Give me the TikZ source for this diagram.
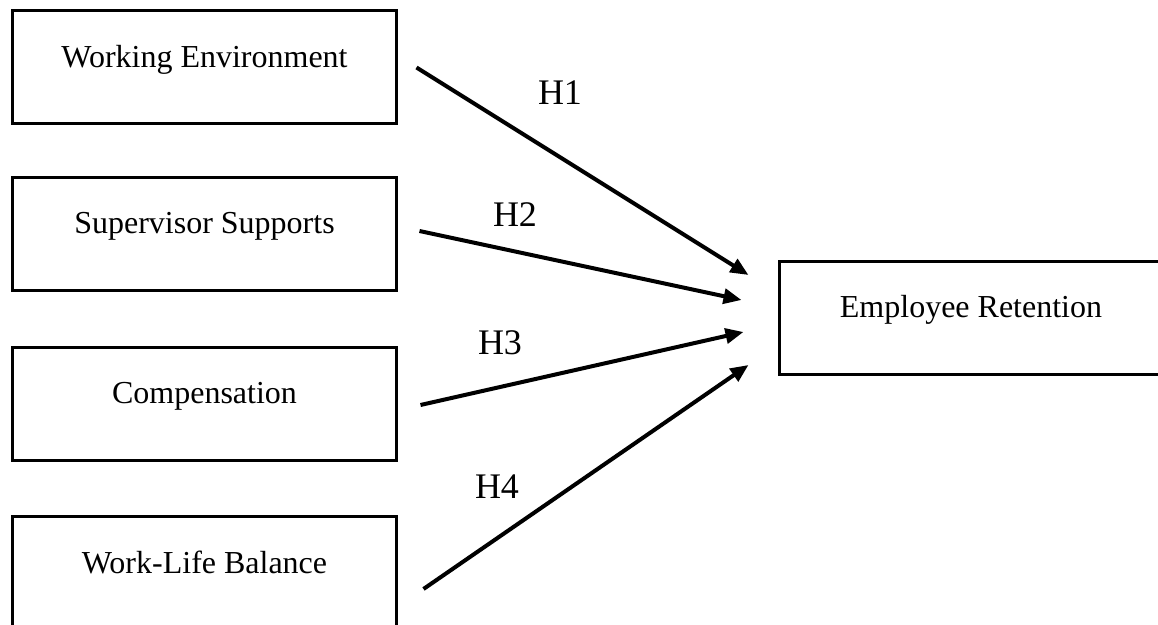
\documentclass[tikz,border=0pt]{standalone}
\usepackage{fontspec}
\setmainfont{Liberation Serif}
\usetikzlibrary{arrows.meta}
\tikzset{
  box/.style={draw=black, line width=1.5pt, rectangle, inner sep=0pt,
    minimum width=192pt, text height=28.25pt, text depth=28.25pt,
    font=\fontsize{16pt}{19pt}\selectfont},
  arr/.style={line width=2pt, -{Triangle[length=9pt,width=7.5pt]}},
  hyp/.style={inner sep=0pt, font=\fontsize{18pt}{21pt}\selectfont}
}
\begin{document}
\begin{tikzpicture}[x=0.5pt,y=-0.5pt]
\useasboundingbox (0,0) rectangle (1158,625);
\clip (0,0) rectangle (1158,625);
\fill[white] (0,0) rectangle (1158,625);
\node[box] (b1) at (204.5,67.5) {Working Environment};
\node[box] (b2) at (204.5,234) {Supervisor Supports};
\node[box] (b3) at (204.5,404) {Compensation};
\node[box] (b4) at (204.5,573.5) {Work-Life Balance};
\node[box] (er) at (971,318) {Employee Retention};
\draw[arr] ([xshift=9.25pt]b1.east) -- ([xshift=-14.5pt,yshift=21.5pt]er.west);
\draw[arr] ([xshift=10.75pt,yshift=1.5pt]b2.east) -- ([xshift=-18pt,yshift=9pt]er.west);
\draw[arr] ([xshift=11.25pt,yshift=-0.5pt]b3.east) -- ([xshift=-17pt,yshift=-7pt]er.west);
\draw[arr] ([xshift=12.75pt,yshift=-7.75pt]b4.east) -- ([xshift=-14.5pt,yshift=-23.5pt]er.west);
\node[hyp] (h1) at (560,92.5) {H1};
\node[hyp] (h2) at (515,215) {H2};
\node[hyp] (h3) at (500,343) {H3};
\node[hyp] (h4) at (497,487) {H4};
\end{tikzpicture}
\end{document}
